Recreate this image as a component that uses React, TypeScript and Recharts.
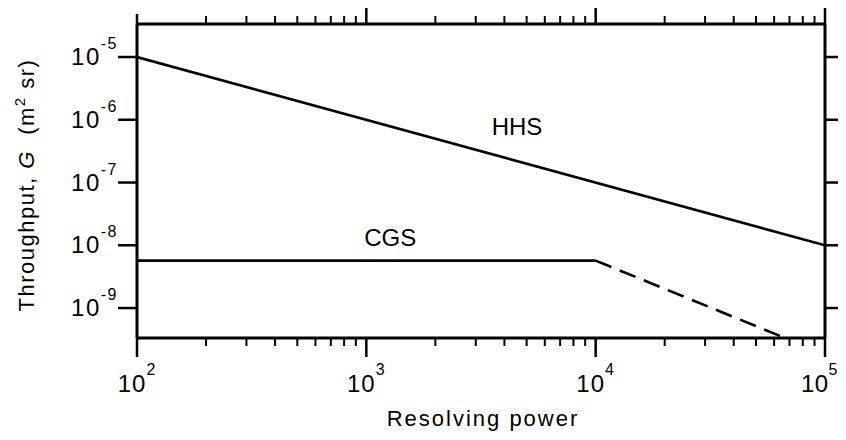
import { LineChart, Line, XAxis, YAxis, ReferenceDot } from 'recharts';

// 分辨本领 vs 通量 (log-log)
const xDecades = [100, 1000, 10000, 100000];
const minorSteps = [2, 3, 4, 5, 6, 7, 8, 9];
const yDecades = [1e-9, 1e-8, 1e-7, 1e-6, 1e-5];

const hhsPoints = [
  { x: 100, y: 1e-5 },
  { x: 100000, y: 1e-8 },
];
const cgsSolid = [
  { x: 100, y: 5.7e-9 },
  { x: 10000, y: 5.7e-9 },
];
const cgsDashed = [
  { x: 10000, y: 5.7e-9 },
  { x: 66000, y: 3.4e-10 },
];

const xDomain = [100, 100000];
const yDomain = [3.33e-10, 3.36e-5];

const xTicks = [
  ...xDecades,
  ...xDecades.slice(0, 3).flatMap((d) => minorSteps.map((m) => d * m)),
].sort((a, b) => a - b);

const INK = '#000';
const FONT = '"Liberation Sans", Arial, Helvetica, sans-serif';

const exp10 = (v: number) => String(Math.round(Math.log10(v)));

function BottomTick(props: any) {
  const { x, y, payload } = props;
  const major = xDecades.includes(payload.value);
  // 最右边的标签贴着画面边缘，改为右对齐
  const last = payload.value === xDomain[1];
  return (
    <g>
      <line x1={x} y1={y} x2={x} y2={y + (major ? 19 : 8)} stroke={INK} strokeWidth={major ? 2.5 : 2} />
      {major && (
        <text
          x={last ? x + 13 : x}
          y={y + 54}
          textAnchor={last ? 'end' : 'middle'}
          fontSize={24}
          letterSpacing={last ? 0.5 : 1}
          fill={INK}
          fontFamily={FONT}
        >
          10
          <tspan dy={-17} fontSize={16}>{exp10(payload.value)}</tspan>
        </text>
      )}
    </g>
  );
}

function TopTick(props: any) {
  const { x, y, payload } = props;
  const v = payload.value;
  const major = xDecades.includes(v);
  const len = v === 100 ? 10 : major ? 19 : 8;
  return <line x1={x} y1={y} x2={x} y2={y - len} stroke={INK} strokeWidth={major ? 2.5 : 2} />;
}

function LeftTick(props: any) {
  const { x, y, payload } = props;
  return (
    <g>
      <line x1={x} y1={y} x2={x - 19} y2={y} stroke={INK} strokeWidth={2.5} />
      <text x={x - 19} y={y + 8} textAnchor="end" fontSize={24} letterSpacing={1.5} fill={INK} fontFamily={FONT}>
        10
        <tspan dy={-16} fontSize={16}>{exp10(payload.value)}</tspan>
      </text>
    </g>
  );
}

function RightTick(props: any) {
  const { x, y } = props;
  return <line x1={x} y1={y} x2={x + 21} y2={y} stroke={INK} strokeWidth={2.5} />;
}

function XTitle(props: any) {
  const { viewBox } = props;
  return (
    <text
      x={viewBox.x + viewBox.width / 2 + 2}
      y={viewBox.y + 88}
      textAnchor="middle"
      fontSize={22}
      letterSpacing={2}
      fill={INK}
      fontFamily={FONT}
    >
      Resolving power
    </text>
  );
}

function YTitle(props: any) {
  const { viewBox } = props;
  const cx = 26;
  const cy = viewBox.y + viewBox.height / 2 + 4;
  return (
    <text
      x={cx}
      y={cy}
      transform={`rotate(-90, ${cx}, ${cy})`}
      textAnchor="middle"
      fontSize={22}
      letterSpacing={1.5}
      fill={INK}
      fontFamily={FONT}
      style={{ whiteSpace: 'pre' }}
    >
      {'Throughput, '}
      <tspan fontStyle="italic">G</tspan>
      {'  (m'}
      <tspan dy={-9} fontSize={15}>2</tspan>
      <tspan dy={9}>{' sr)'}</tspan>
    </text>
  );
}

export default function App() {
  return (
    <div style={{ width: 830, height: 424, fontFamily: FONT }}>
      <LineChart
        width={830}
        height={424}
        margin={{ top: 0, right: 0, bottom: 0, left: 0 }}
        style={{ overflow: 'visible' }}
      >
        <XAxis
          dataKey="x"
          type="number"
          scale="log"
          domain={xDomain}
          allowDataOverflow
          ticks={xTicks}
          interval={0}
          height={94}
          tickSize={0}
          tickMargin={0}
          tickLine={false}
          axisLine={{ stroke: INK, strokeWidth: 3 }}
          tick={BottomTick}
          label={XTitle}
        />
        <XAxis
          xAxisId="top"
          orientation="top"
          dataKey="x"
          type="number"
          scale="log"
          domain={xDomain}
          allowDataOverflow
          ticks={xTicks}
          interval={0}
          height={16}
          tickSize={0}
          tickMargin={0}
          tickLine={false}
          axisLine={{ stroke: INK, strokeWidth: 3 }}
          tick={TopTick}
        />
        <YAxis
          dataKey="y"
          type="number"
          scale="log"
          domain={yDomain}
          allowDataOverflow
          ticks={yDecades}
          interval={0}
          width={129}
          tickSize={0}
          tickMargin={0}
          tickLine={false}
          axisLine={{ stroke: INK, strokeWidth: 3 }}
          tick={LeftTick}
          label={YTitle}
        />
        <YAxis
          yAxisId="right"
          orientation="right"
          dataKey="y"
          type="number"
          scale="log"
          domain={yDomain}
          allowDataOverflow
          ticks={yDecades}
          interval={0}
          width={13}
          tickSize={0}
          tickMargin={0}
          tickLine={false}
          axisLine={{ stroke: INK, strokeWidth: 3 }}
          tick={RightTick}
        />
        <Line data={hhsPoints} dataKey="y" stroke={INK} strokeWidth={2.6} dot={false} isAnimationActive={false} />
        <Line data={cgsSolid} dataKey="y" stroke={INK} strokeWidth={2.6} dot={false} isAnimationActive={false} />
        <Line
          data={cgsDashed}
          dataKey="y"
          stroke={INK}
          strokeWidth={2.6}
          strokeDasharray="17 9"
          dot={false}
          isAnimationActive={false}
        />
        <ReferenceDot
          x={4540}
          y={7.7e-7}
          r={0}
          stroke="none"
          label={{ value: 'HHS', position: 'center', fontSize: 24, fill: INK, fontFamily: FONT }}
        />
        <ReferenceDot
          x={1270}
          y={1.32e-8}
          r={0}
          stroke="none"
          label={{ value: 'CGS', position: 'center', fontSize: 24, fill: INK, fontFamily: FONT }}
        />
      </LineChart>
    </div>
  );
}
